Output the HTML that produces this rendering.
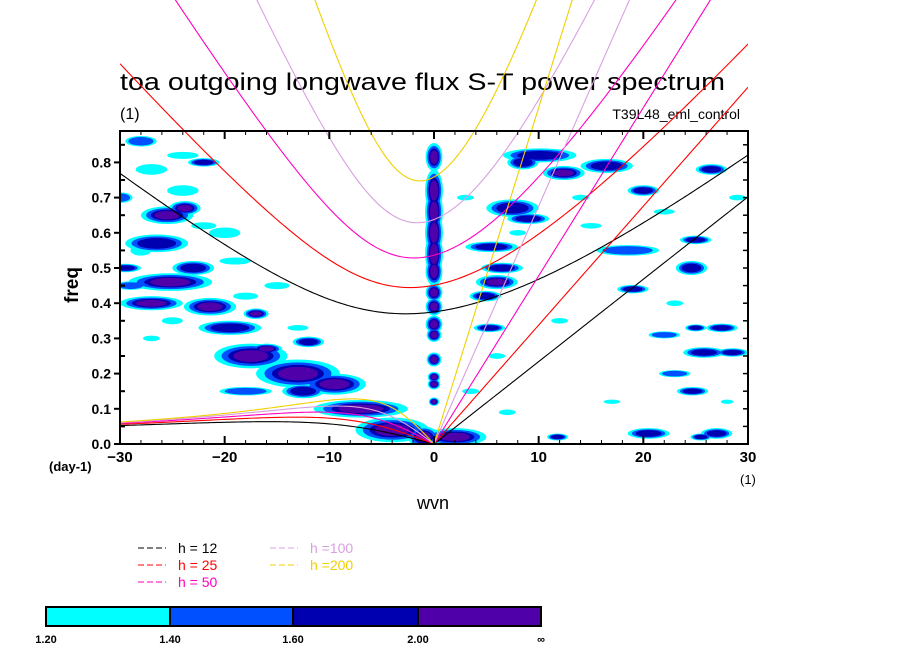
<!DOCTYPE html>
<html><head><meta charset="utf-8"><style>
body{margin:0;background:#fff}
svg{display:block;font-family:"Liberation Sans",sans-serif}
</style></head><body>
<svg id="chart" width="904" height="654" viewBox="0 0 904 654" xmlns="http://www.w3.org/2000/svg">
<text x="120" y="90" font-size="24" textLength="605" lengthAdjust="spacingAndGlyphs">toa outgoing longwave flux S-T power spectrum</text>
<text x="120" y="119" font-size="16">(1)</text>
<text x="740" y="119" font-size="14" text-anchor="end">T39L48_eml_control</text>
<g id="fields"></g>
<g id="curves"></g>
<g id="axes"></g>
<text x="78" y="285" font-size="19" font-weight="bold" transform="rotate(-90 78 285)" text-anchor="middle">freq</text>
<text x="49" y="471" font-size="13" font-weight="bold">(day-1)</text>
<text x="740" y="484" font-size="13">(1)</text>
<text x="433" y="509" font-size="18" text-anchor="middle">wvn</text>
<g id="legend" font-size="14"></g>
<g id="colorbar"></g>
</svg>
<script>
const NS="http://www.w3.org/2000/svg";
// ---- data ----
const depths=[12,25,50,100,200];
const depthColors=["#000000","#ff0000","#ff00c0","#d8a0e0","#f0d000"];
const levels=["1.20","1.40","1.60","2.00","\u221e"];
const levelColors=["#00ffff","#0050ff","#0000b0","#5000a8"];
const xTicks=[-30,-20,-10,0,10,20,30];
const yTicks=[0,0.1,0.2,0.3,0.4,0.5,0.6,0.7,0.8];
// blobs: wvn, freq, half-width (wvn), half-height (freq), level
const blobWvn=[-28,-25.2,-27,-21.4,-19.5,-17.5,-16,-13,-12,-9.5,-12.5,-18,-7,-4,-1,2,-25.5,-23.8,-26.5,-23,-29.5,-29,-30,-22,-17,
 10.1,12.4,16.5,7.5,5.5,6,6.5,18.5,24.6,25,26.5,20,9,4.9,5.3,25.8,28.5,27.5,25,22,24.7,20.5,27,25.5,11.8,23,19,8.5,
 0,0,0,0,0,0,0,0,0,0,0,0,0,0,
 -27,-24,-20,-28,-22,-15,-25,-19,-27,-13,-18,-24,3,8,14,15,22,29,6,12,17,23,28,3.5,7];
const blobFreq=[0.86,0.46,0.40,0.39,0.33,0.25,0.27,0.20,0.29,0.17,0.15,0.15,0.10,0.04,0.02,0.02,0.65,0.67,0.57,0.50,0.50,0.45,0.70,0.80,0.37,
 0.82,0.77,0.79,0.67,0.56,0.46,0.50,0.55,0.50,0.58,0.78,0.72,0.64,0.42,0.33,0.26,0.26,0.33,0.33,0.31,0.15,0.03,0.03,0.02,0.02,0.20,0.44,0.80,
 0.815,0.72,0.66,0.60,0.54,0.49,0.43,0.39,0.34,0.31,0.24,0.19,0.17,0.12,
 0.78,0.72,0.60,0.55,0.62,0.45,0.35,0.52,0.30,0.33,0.42,0.82,0.70,0.60,0.70,0.62,0.66,0.70,0.25,0.35,0.12,0.40,0.12,0.15,0.09];
const blobW=[1.5,4,3,2.5,3,3.5,1.5,4,1.5,3,2,2.5,4.5,3.5,1.5,3,2.5,1.5,3,2,1.5,1.5,1.2,1.5,1.2,
 3.5,2,2.5,2.5,2.5,2,2,3,1.5,1.5,1.5,1.5,2,1.5,1.5,2,1.5,1.5,1,1.5,1.5,2,1.5,1,1,1.5,1.5,1.5,
 0.8,0.85,0.85,0.85,0.85,0.8,0.8,0.8,0.8,0.7,0.7,0.6,0.6,0.5,
 1.5,1.5,1.5,1,1.2,1.2,1,1.5,0.8,1,1.2,1.5,0.8,0.8,0.8,1,1,0.8,0.8,0.8,0.8,0.8,0.6,0.8,0.8];
const blobH=[0.015,0.025,0.02,0.025,0.02,0.035,0.015,0.04,0.015,0.03,0.02,0.012,0.025,0.035,0.03,0.025,0.025,0.02,0.025,0.02,0.012,0.012,0.015,0.012,0.015,
 0.02,0.02,0.02,0.025,0.015,0.02,0.015,0.015,0.02,0.012,0.015,0.015,0.015,0.015,0.012,0.015,0.012,0.012,0.01,0.01,0.012,0.015,0.015,0.01,0.01,0.01,0.012,0.02,
 0.04,0.06,0.06,0.06,0.06,0.04,0.025,0.025,0.025,0.02,0.02,0.015,0.015,0.012,
 0.015,0.015,0.015,0.015,0.01,0.01,0.01,0.01,0.008,0.008,0.01,0.01,0.008,0.008,0.008,0.008,0.008,0.008,0.008,0.008,0.006,0.008,0.006,0.008,0.008];
const blobLevel=[2,4,4,4,3,4,4,4,3,4,3,2,4,4,4,4,4,4,3,3,3,2,2,3,4,
 3,4,3,3,3,4,3,2,3,3,3,3,3,3,3,3,3,3,3,2,3,3,3,3,3,2,3,3,
 4,4,4,4,4,4,4,4,4,4,4,4,4,4,
 1,1,1,1,1,1,1,1,1,1,1,1,1,1,1,1,1,1,1,1,1,1,1,1,1];
// ---- axis functions ----
const X0=120,X1=748,Y0=444,YPER=352;
const xs=w=>X0+(w+30)*(X1-X0)/60;
const ys=f=>Y0-f*YPER;
const levelScale=[1,0.8,0.62,0.48];
function el(t,a,p){const e=document.createElementNS(NS,t);for(const k in a)e.setAttribute(k,a[k]);(p||document.getElementById('chart')).appendChild(e);return e;}
// clip
const defs=el('defs',{});
const cp=el('clipPath',{id:'plotclip'},defs);el('rect',{x:X0,y:131,width:X1-X0,height:Y0-131},cp);
const cp2=el('clipPath',{id:'curveclip'},defs);el('rect',{x:X0,y:0,width:X1-X0,height:Y0},cp2);
// fields
const fg=document.getElementById('fields');fg.setAttribute('clip-path','url(#plotclip)');
for(let lv=1;lv<=4;lv++){
 for(let i=0;i<blobWvn.length;i++){
  if(blobLevel[i]<lv)continue;
  const s=levelScale[lv-1];
  const e=el('ellipse',{cx:xs(blobWvn[i]),cy:ys(blobFreq[i]),rx:blobW[i]*10.467*s,ry:blobH[i]*YPER*s,fill:levelColors[lv-1]},fg);
  
  
 }
}
// dispersion curves
const beta=2.29e-11,a=6.371e6,g=9.8,toCpd=86400/(2*Math.PI);
const cg=document.getElementById('curves');cg.setAttribute('clip-path','url(#curveclip)');
depths.forEach((h,di)=>{
 const c=Math.sqrt(g*h);
 let ig=[],ro=[],kv=[];
 for(let s=-30;s<=30.001;s+=0.25){
  const k=s/a;
  let w=Math.sqrt(c*c*k*k+3*beta*c);
  for(let it=0;it<50;it++){w=Math.sqrt(Math.max(1e-20,c*c*k*k+3*beta*c+beta*c*c*k/w));}
  ig.push([xs(s),ys(w*toCpd)]);
  if(s<=0){let r=0;for(let it=0;it<50;it++){r=-beta*c*c*k/(c*c*k*k+3*beta*c-r*r);}ro.push([xs(s),ys(r*toCpd)]);}
  if(s>=0)kv.push([xs(s),ys(c*k*toCpd)]);
 }
 [[ig,'ig'],[ro,'rossby'],[kv,'kelvin']].forEach(([pts,nm])=>{
  const p=el('polyline',{points:pts.map(q=>q.join(',')).join(' '),fill:'none',stroke:depthColors[di],'stroke-width':1.1},cg);
  
  
 });
});
// axes
const ag=document.getElementById('axes');
const fr=el('rect',{x:X0,y:131,width:X1-X0,height:Y0-131,fill:'none',stroke:'#000','stroke-width':2},ag);

for(let w=-30;w<=30;w+=2){const maj=w%10===0;
 el('line',{x1:xs(w),x2:xs(w),y1:Y0,y2:Y0-(maj?8:4),stroke:'#000','stroke-width':maj?2:1},ag);
 el('line',{x1:xs(w),x2:xs(w),y1:131,y2:131+(maj?8:4),stroke:'#000','stroke-width':maj?2:1},ag);}
for(let f=0;f<=0.88;f+=0.05){const maj=Math.round(f*100)%10===0;
 el('line',{x1:X0-(maj?6:0),x2:X0+(maj?0:5),y1:ys(f),y2:ys(f),stroke:'#000','stroke-width':2},ag);
 el('line',{x1:X1-5,x2:X1,y1:ys(f),y2:ys(f),stroke:'#000','stroke-width':1.5},ag);}
xTicks.forEach(t=>{const e=el('text',{x:xs(t),y:Y0+18,'font-size':15,'font-weight':'bold','text-anchor':'middle'},ag);e.textContent=String(t).replace('-','\u2212');
 });
yTicks.forEach(t=>{const e=el('text',{x:111,y:ys(t)+5,'font-size':14,'font-weight':'bold','text-anchor':'end'},ag);e.textContent=t.toFixed(1);
 });
// legend
const lg=document.getElementById('legend');
const lpos=[[138,553],[138,570],[138,587],[270,553],[270,570]];
depths.forEach((h,i)=>{const [x,y]=lpos[i];
 const d=el('line',{x1:x,x2:x+28,y1:y-5,y2:y-5,stroke:depthColors[i],'stroke-width':1,'stroke-dasharray':'6,3'},lg);
 
 const t=el('text',{x:x+40,y:y,fill:depthColors[i]},lg);t.textContent=h>=100?'h ='+h:'h = '+h;
 });
// colorbar
const cb=document.getElementById('colorbar');
const cbx=[46,170,293,418,541];
levelColors.forEach((c,i)=>{const r=el('rect',{x:cbx[i],y:607,width:cbx[i+1]-cbx[i],height:19,fill:c,stroke:'#000','stroke-width':2},cb);
 });
levels.forEach((l,i)=>{const t=el('text',{x:cbx[i],y:643,'font-size':11,'font-weight':'bold','text-anchor':'middle'},cb);t.textContent=l;
 });
</script>
</body></html>
